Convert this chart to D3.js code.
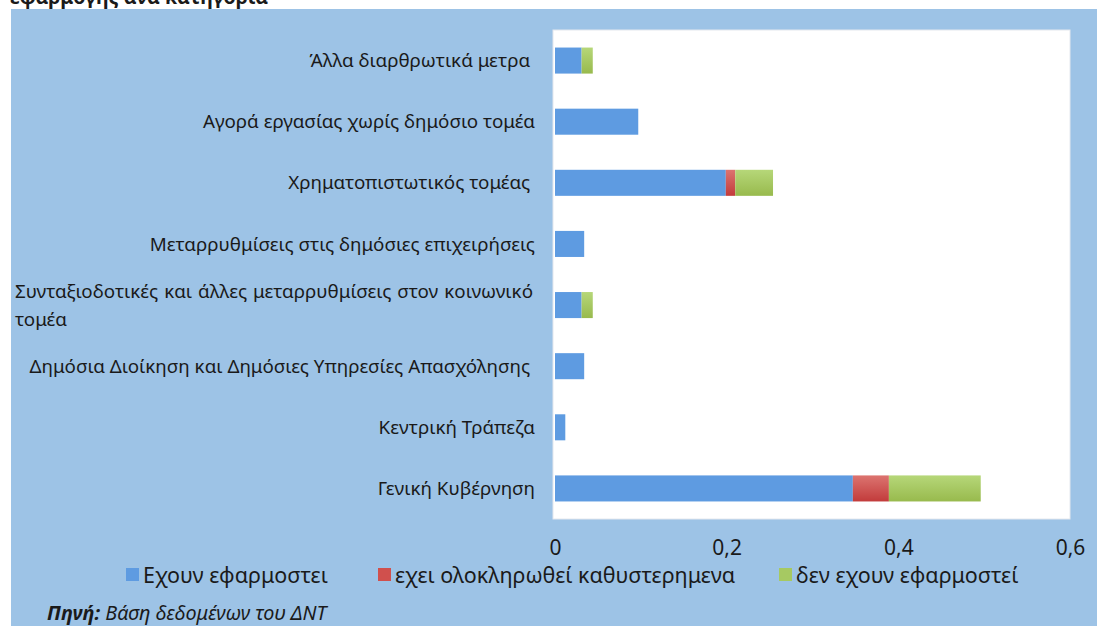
<!DOCTYPE html>
<html>
<head>
<meta charset="utf-8">
<script src="https://cdn.jsdelivr.net/npm/d3@7"></script>
<style>
  body { margin: 0; background: #ffffff; }
  svg text { font-family: "Noto Sans", "Open Sans", sans-serif; fill: #1a1a1a; }
  .cat { white-space: pre; }
</style>
</head>
<body>
<svg id="chart" width="1097" height="626"></svg>
<script>
// Categories, listed top to bottom as they appear on the chart
const categories = [
  "Άλλα διαρθρωτικά μετρα ",
  "Αγορά εργασίας χωρίς δημόσιο τομέα",
  "Χρηματοπιστωτικός τομέας ",
  "Μεταρρυθμίσεις στις δημόσιες επιχειρήσεις",
  "Συνταξιοδοτικές και άλλες μεταρρυθμίσεις στον κοινωνικό τομέα",
  "Δημόσια Διοίκηση και Δημόσιες Υπηρεσίες Απασχόλησης ",
  "Κεντρική Τράπεζα",
  "Γενική Κυβέρνηση"
];
// Share of measures per category and status
const implemented    = [0.031, 0.097, 0.199, 0.034, 0.031, 0.034, 0.012, 0.347];
const completedLate  = [0.000, 0.000, 0.011, 0.000, 0.000, 0.000, 0.000, 0.042];
const notImplemented = [0.013, 0.000, 0.044, 0.000, 0.013, 0.000, 0.000, 0.107];
const seriesNames = ["Εχουν εφαρμοστει", "εχει ολοκληρωθεί καθυστερημενα", "δεν εχουν εφαρμοστεί"];
const xTicks = [0, 0.2, 0.4, 0.6];
const titleText = "εφαρμογής ανά κατηγορία";
const sourceLabel = "Πηνή:";
const sourceText = " Βάση δεδομένων του ΔΝΤ";

const keys = ["implemented", "completedLate", "notImplemented"];
const rows = categories.map((c, i) => ({
  category: c,
  implemented: implemented[i],
  completedLate: completedLate[i],
  notImplemented: notImplemented[i]
}));

const svg = d3.select("#chart");
const W = 1097, H = 626;

// gradients for the red and green segments
const defs = svg.append("defs");
function vGrad(id, top, bottom) {
  const g = defs.append("linearGradient").attr("id", id)
    .attr("x1", 0).attr("y1", 0).attr("x2", 0).attr("y2", 1);
  g.append("stop").attr("offset", "0%").attr("stop-color", top);
  g.append("stop").attr("offset", "100%").attr("stop-color", bottom);
}
vGrad("gRed", "#dc7470", "#c23b3b");
vGrad("gGreen", "#b6d779", "#98ba4d");
const fills = ["#5e9be1", "url(#gRed)", "url(#gGreen)"];
const swatch = ["#5e9be1", "#d0504d", "#a6c962"];

// title line, continuing from above the top edge
svg.append("text")
  .attr("x", 10).attr("y", 4)
  .style("font-weight", "bold").style("font-size", "19.5px")
  .text(titleText);

// chart background
svg.append("rect").attr("x", 11).attr("y", 9).attr("width", W - 11).attr("height", H - 9)
  .attr("fill", "#9dc3e6");

// plot area
const plot = { left: 553, right: 1070, top: 30, bottom: 519 };
svg.append("rect")
  .attr("x", plot.left).attr("y", plot.top)
  .attr("width", plot.right - plot.left).attr("height", plot.bottom - plot.top)
  .attr("fill", "#ffffff").attr("stroke", "#e4e8ee").attr("stroke-width", 1);

const x = d3.scaleLinear().domain([0, 0.6]).range([555, 1070]);
const y = d3.scaleBand().domain(categories).range([plot.top, plot.bottom])
  .paddingInner(0.574).paddingOuter(0.287);

const stacked = d3.stack().keys(keys)(rows);

svg.append("g").selectAll("g").data(stacked).join("g")
  .attr("fill", (d, i) => fills[i])
  .selectAll("rect").data(d => d.filter(s => s[1] - s[0] > 0)).join("rect")
  .attr("x", d => x(d[0]))
  .attr("y", d => y(d.data.category))
  .attr("width", d => x(d[1]) - x(d[0]))
  .attr("height", y.bandwidth());

// x axis labels
const fmt = d3.formatLocale({ decimal: ",", thousands: ".", grouping: [3], currency: ["", "€"] }).format("~g");
const xAxis = svg.append("g")
  .attr("transform", `translate(0,${plot.bottom + 18})`)
  .call(d3.axisBottom(x).tickValues(xTicks).tickFormat(fmt).tickSize(0));
xAxis.select(".domain").remove();
xAxis.selectAll("text").attr("dy", "0.71em")
  .style("font-size", "21px").style("font-family", "'Noto Sans', sans-serif").attr("fill", "#1a1a1a");

// category labels
const labelRight = 535;
const labelSize = "18.8px";
const labels = svg.append("g");
categories.forEach((c, i) => {
  const cy = y(c) + y.bandwidth() / 2;
  if (c.startsWith("Συνταξιοδοτικές")) {
    // wrapped, justified label
    const words1 = c.split(" ").slice(0, -1);
    const line2 = c.split(" ").slice(-1)[0];
    const left = 15;
    const tmp = words1.map(w => labels.append("text").attr("class", "cat")
      .style("font-size", labelSize).attr("y", cy - 14).attr("dy", "0.35em").text(w));
    const widths = tmp.map(t => t.node().getComputedTextLength());
    const total = d3.sum(widths);
    const gap = (labelRight - 2 - left - total) / (words1.length - 1);
    let pos = left;
    tmp.forEach((t, k) => { t.attr("x", pos); pos += widths[k] + gap; });
    labels.append("text").attr("class", "cat").style("font-size", labelSize)
      .attr("x", left).attr("y", cy + 14).attr("dy", "0.35em").text(line2);
  } else {
    labels.append("text").attr("class", "cat")
      .style("font-size", labelSize)
      .attr("x", labelRight).attr("y", cy).attr("dy", "0.35em")
      .attr("text-anchor", "end").text(c);
  }
});

// legend
const legendX = [126, 378, 779];
const legend = svg.append("g");
seriesNames.forEach((n, i) => {
  legend.append("rect").attr("x", legendX[i]).attr("y", 568).attr("width", 13).attr("height", 13)
    .attr("fill", swatch[i]);
  legend.append("text").attr("x", legendX[i] + 17).attr("y", 575).attr("dy", "0.35em")
    .style("font-size", "21.5px").text(n);
});

// source note
const src = svg.append("text").attr("x", 47).attr("y", 620)
  .style("font-size", "19.8px").style("font-style", "italic");
src.append("tspan").style("font-weight", "bold").text(sourceLabel);
src.append("tspan").style("white-space", "pre").text(sourceText);
</script>
</body>
</html>
